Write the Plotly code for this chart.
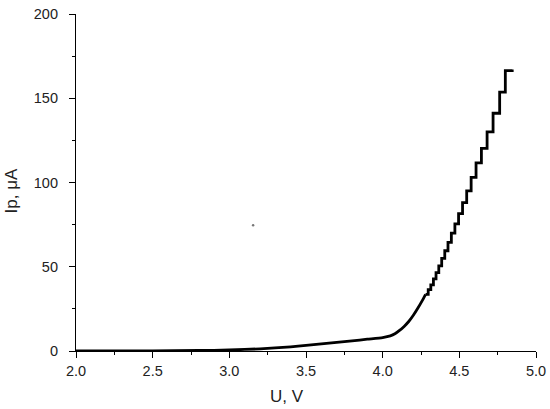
import plotly.graph_objects as go

# --------------------------- DATA ---------------------------

# smooth lower part of the I-V curve
u_low = [2.0, 2.5, 2.8, 3.0, 3.2, 3.4, 3.5, 3.6, 3.7, 3.8, 3.9, 4.0,
         4.05, 4.08, 4.11, 4.14, 4.17, 4.2, 4.23, 4.26, 4.28]
ip_low = [0.0, 0.1, 0.3, 0.6, 1.3, 2.5, 3.3, 4.2, 5.1, 6.0, 7.0, 8.0,
          9.0, 10.2, 12.2, 14.6, 17.5, 21.2, 25.5, 30.2, 33.6]

# stepped upper part (voltage where the current jumps, level after the jump)
u_steps = [4.28, 4.297, 4.314, 4.331, 4.348, 4.366, 4.385, 4.405, 4.426, 4.448,
           4.471, 4.495, 4.521, 4.548, 4.577, 4.609, 4.644, 4.681, 4.720,
           4.763, 4.800, 4.845]
ip_steps = [33.6, 36.4, 39.2, 42.8, 46.5, 50.5, 55.0, 59.5, 64.5, 70.0,
            75.5, 81.5, 88.0, 95.0, 103.0, 111.7, 120.3, 130.1, 141.1,
            153.6, 166.4, 167.0]

# stray speck in the scanned figure
u_speck = [3.155]
ip_speck = [74.6]

x_ticks = [2.0, 2.5, 3.0, 3.5, 4.0, 4.5, 5.0]
y_ticks = [0, 50, 100, 150, 200]

FONT = "Liberation Sans, Arial, sans-serif"

# --------------------------- FIGURE ---------------------------

fig = go.Figure()

fig.add_trace(
    go.Scatter(
        x=u_low,
        y=ip_low,
        mode="lines",
        line=dict(color="black", width=2.8, shape="spline", smoothing=0.6),
        showlegend=False,
    )
)

fig.add_trace(
    go.Scatter(
        x=u_steps,
        y=ip_steps,
        mode="lines",
        line=dict(color="black", width=2.8, shape="hv"),
        showlegend=False,
    )
)

fig.add_trace(
    go.Scatter(
        x=u_speck,
        y=ip_speck,
        mode="markers",
        marker=dict(color="#777777", size=2.5),
        showlegend=False,
    )
)

axis_common = dict(
    showline=True,
    linecolor="black",
    linewidth=1.2,
    showgrid=False,
    zeroline=False,
    mirror=False,
    automargin=False,
    ticks="outside",
    ticklen=6,
    tickwidth=1.2,
    tickcolor="black",
    tickfont=dict(family=FONT, size=14.5, color="#222222"),
)

fig.update_xaxes(
    range=[2.0, 5.0],
    tickvals=x_ticks,
    ticktext=[f"{v:.1f}" for v in x_ticks],
    minor=dict(ticks="outside", ticklen=3, tickwidth=1, tickcolor="black", dtick=0.25),
    **axis_common,
)

fig.update_yaxes(
    range=[0, 200],
    tickvals=y_ticks,
    ticklabelstandoff=8,
    minor=dict(ticks="outside", ticklen=3, tickwidth=1, tickcolor="black", dtick=25),
    **axis_common,
)

fig.update_layout(
    width=550,
    height=409,
    autosize=False,
    paper_bgcolor="white",
    plot_bgcolor="white",
    margin=dict(l=76, r=14, t=14, b=58),
    annotations=[
        dict(
            text="U, V",
            xref="paper", yref="paper",
            x=0.458, y=-0.135,
            xanchor="center", yanchor="middle",
            showarrow=False,
            font=dict(family=FONT, size=17, color="#222222"),
        ),
        dict(
            text="Ip, μA",
            xref="paper", yref="paper",
            x=-0.141, y=0.474,
            xanchor="center", yanchor="middle",
            textangle=-90,
            showarrow=False,
            font=dict(family=FONT, size=17, color="#222222"),
        ),
    ],
)

# body margin would otherwise push the fixed-size figure off the window
fig.write_html(
    "out.html",
    config={"displayModeBar": False},
    post_script="document.body.style.margin='0';",
)
